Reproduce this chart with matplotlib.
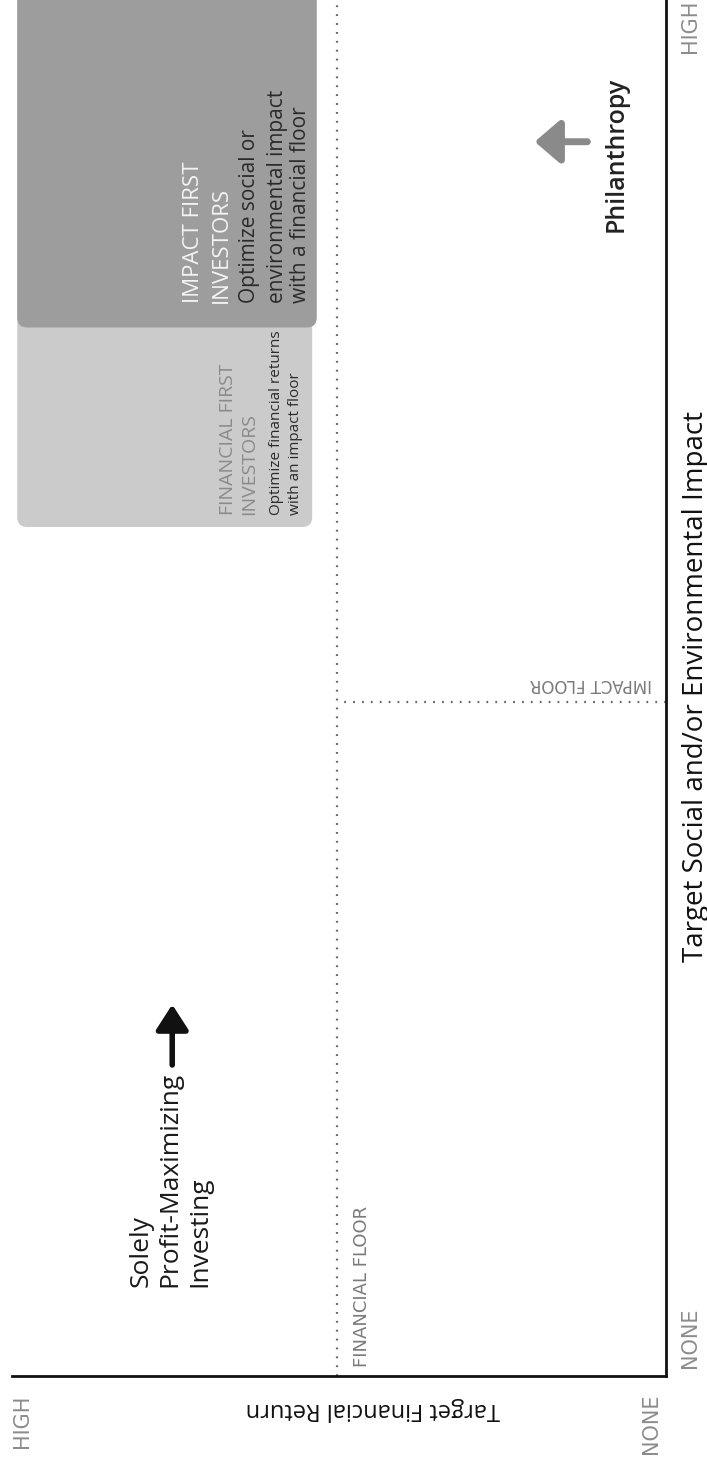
import matplotlib
matplotlib.use('Agg')
import matplotlib.pyplot as plt
from matplotlib.patches import FancyBboxPatch

plt.rcParams['font.family'] = ['Open Sans', 'DejaVu Sans']

# ===================== CONCEPT DATA (0 = none, 1 = high) =====================
impact_floor = 0.49        # impact level of the impact floor
financial_floor = 0.503    # return level of the financial floor

box_titles = ['FINANCIAL FIRST\nINVESTORS', 'IMPACT FIRST\nINVESTORS']
box_notes = ['Optimize financial returns\nwith an impact floor',
             'Optimize social or\nenvironmental impact\nwith a financial floor']
box_impact_lo = [0.617, 0.762]
box_impact_hi = [1.0, 1.0]
box_return_lo = [0.541, 0.534]
box_return_hi = [0.992, 0.992]
box_colors = ['#cbcbcb', '#9d9d9d']
title_colors = ['#8a8a8a', '#f4f4f4']

profit_text = ['Solely', 'Profit-Maximizing', 'Investing']
axis_ends = ['NONE', 'HIGH']

# ===================== FIGURE (chart turned a quarter turn) =====================
fig = plt.figure(figsize=(7.07, 14.67), dpi=100)
ax = fig.add_axes([12 / 707, 91 / 1467, 654 / 707, 1376 / 1467])
ax.set_xlim(1, 0)      # financial return runs right -> left
ax.set_ylim(0, 1)      # impact runs bottom -> top
ax.set_xticks([])
ax.set_yticks([])
for s in ['left', 'top']:
    ax.spines[s].set_visible(False)
for s in ['right', 'bottom']:
    ax.spines[s].set_linewidth(2.0)
    ax.spines[s].set_color('#111111')

# shaded investor boxes
for k in range(len(box_titles)):
    p = FancyBboxPatch((box_return_lo[k], box_impact_lo[k]),
                       box_return_hi[k] - box_return_lo[k],
                       box_impact_hi[k] - box_impact_lo[k] + 0.02,
                       boxstyle='round,pad=0,rounding_size=0.015',
                       mutation_aspect=654 / 1376,
                       fc=box_colors[k], ec='none', zorder=1)
    ax.add_patch(p)

# floors
ax.plot([financial_floor, financial_floor], [0, 1], color='#666666',
        lw=1.6, ls=(0, (0.8, 3.2)), zorder=2)
ax.plot([0, financial_floor], [impact_floor, impact_floor], color='#666666',
        lw=1.6, ls=(0, (0.8, 3.2)), zorder=2)

ax.text(0.465, 0.0065, 'FINANCIAL FLOOR', rotation=90, rotation_mode='anchor',
        ha='left', va='center', fontsize=13, color='#7a7a7a',
        family=['DejaVu Sans'])
ax.text(0.0214, 0.503, 'IMPACT FLOOR', rotation=180, rotation_mode='anchor',
        ha='left', va='center', fontsize=12, color='#7a7a7a',
        family=['DejaVu Sans'])

# box texts (one entry per line, placed along the return axis)
title_x = [[0.670, 0.637], [0.723, 0.680]]
note_x = [[0.595, 0.566], [0.6376, 0.5948, 0.5596]]
text_y = [0.626, 0.780]
title_size = [14, 16]
note_size = [11, 15]
for k in range(len(box_titles)):
    for j, line in enumerate(box_titles[k].split('\n')):
        ax.text(title_x[k][j], text_y[k], line, rotation=90, rotation_mode='anchor',
                ha='left', va='center', fontsize=title_size[k], color=title_colors[k])
    for j, line in enumerate(box_notes[k].split('\n')):
        ax.text(note_x[k][j], text_y[k], line, rotation=90, rotation_mode='anchor',
                ha='left', va='center', fontsize=note_size[k], color='#2a2a2a')

# solely profit-maximizing
for j, xr in enumerate([0.803, 0.758, 0.7125]):
    ax.text(xr, 0.0647, profit_text[j], rotation=90, rotation_mode='anchor',
            ha='left', va='center', fontsize=19, color='#1a1a1a')
ax.annotate('', xy=(0.755, 0.272), xytext=(0.755, 0.224),
            arrowprops=dict(arrowstyle='-|>,head_length=0.7,head_width=0.45',
                            lw=4, color='#111111', mutation_scale=22))

# philanthropy
ax.text(0.0765, 0.8875, 'Philanthropy', rotation=90, ha='center', va='center',
        fontsize=18, color='#222222', fontweight='semibold')
ax.annotate('', xy=(0.205, 0.897), xytext=(0.116, 0.897),
            arrowprops=dict(arrowstyle='-|>,head_length=0.7,head_width=0.6',
                            lw=5, color='#8a8a8a', mutation_scale=22))

# axis titles and ends
ax.text(0.448, -0.024, 'Target Financial Return', rotation=180, ha='center',
        va='center', fontsize=17, color='#111111', clip_on=False)
ax.text(-0.046, 0.501, 'Target Social and/or Environmental Impact', rotation=90,
        ha='center', va='center', fontsize=20, color='#111111', clip_on=False)
ax.text(0.023, -0.035, axis_ends[0], rotation=90, ha='center', va='center',
        fontsize=15, color='#8c8c8c', clip_on=False, family=['DejaVu Sans'])
ax.text(0.985, -0.033, axis_ends[1], rotation=90, ha='center', va='center',
        fontsize=15, color='#8c8c8c', clip_on=False, family=['DejaVu Sans'])
ax.text(-0.0367, 0.0276, axis_ends[0], rotation=90, ha='center', va='center',
        fontsize=15, color='#8c8c8c', clip_on=False, family=['DejaVu Sans'])
ax.text(-0.0367, 0.981, axis_ends[1], rotation=90, ha='center', va='center',
        fontsize=15, color='#8c8c8c', clip_on=False, family=['DejaVu Sans'])

fig.savefig('out.png', dpi=100, facecolor='white')
